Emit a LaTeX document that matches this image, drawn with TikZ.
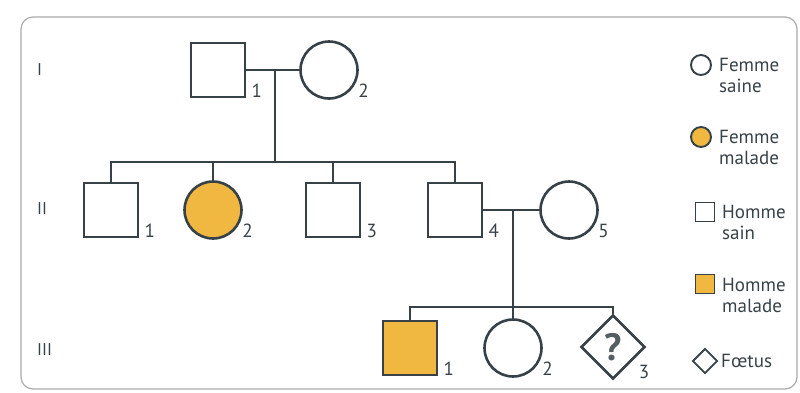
\documentclass[tikz,border=0pt]{standalone}
\usepackage{fontspec}
\setmainfont{PT Sans}
\usetikzlibrary{shapes.geometric}
\definecolor{trait}{RGB}{55,66,72}
\definecolor{malade}{RGB}{240,184,64}
\definecolor{cadre}{RGB}{170,170,170}

\begin{document}
\begin{tikzpicture}[x=1pt,y=-1pt,
	ind/.style={draw=trait,line width=2.6pt,inner sep=0pt},
	homme/.style={ind,rectangle,minimum size=54pt},
	femme/.style={ind,circle,minimum size=57pt},
	foetus/.style={ind,diamond,minimum size=64pt,text=trait!85,font=\fontsize{38}{38}\selectfont\bfseries},
	atteint/.style={fill=malade},
	lien/.style={draw=trait,line width=2.2pt},
	num/.style={anchor=base west,inner sep=0pt,text=trait,font=\fontsize{19}{19}\selectfont},
	numsq/.style={num,xshift=5pt,yshift=1pt},
	numci/.style={num,xshift=8pt,yshift=-6.5pt},
	gen/.style={anchor=west,inner sep=0pt,text=trait,font=\fontsize{17}{17}\selectfont},
	leg/.style={draw=trait,line width=1.9pt,inner sep=0pt},
	legtxt/.style={anchor=west,inner sep=0pt,align=left,text=trait,font=\fontsize{19}{21}\selectfont}
	]
	\useasboundingbox (0,0) rectangle (800,392);
	\draw[cadre,line width=1.2pt,rounded corners=12pt] (21,17) rectangle (797,389);

	\node[gen] (g1) at (37,70) {I};
	\node[gen] (g2) at (37,209) {II};
	\node[gen] (g3) at (37,350) {III};

	\node[homme] (i1) at (218,70) {};
	\node[femme] (i2) at (329,70) {};
	\node[numsq] (n-i1) at (i1.south east) {1};
	\node[numci] (n-i2) at (i2.south east) {2};

	\node[homme] (ii1) at (111,210) {};
	\node[femme,atteint] (ii2) at (213,210) {};
	\node[homme] (ii3) at (333,210) {};
	\node[homme] (ii4) at (455,210) {};
	\node[femme] (ii5) at (569,210) {};
	\node[numsq] (n-ii1) at (ii1.south east) {1};
	\node[numci] (n-ii2) at (ii2.south east) {2};
	\node[numsq] (n-ii3) at (ii3.south east) {3};
	\node[numsq] (n-ii4) at (ii4.south east) {4};
	\node[numci] (n-ii5) at (ii5.south east) {5};

	\node[homme,atteint] (iii1) at (410,348) {};
	\node[femme] (iii2) at (513,348) {};
	\node[foetus] (iii3) at (613,347) {?};
	\node[numsq] (n-iii1) at (iii1.south east) {1};
	\node[numci] (n-iii2) at (iii2.south east) {2};
	\node[num,xshift=9pt,yshift=-15pt] (n-iii3) at (iii3.south east) {3};

	\coordinate (u1) at (275,70);
	\coordinate (f1) at (275,162);
	\coordinate (u2) at (513,210);
	\coordinate (f2) at (513,307);

	\draw[lien] (i1) -- (i2);
	\draw[lien] (u1) -- (f1);
	\draw[lien] (ii1.north) -- (ii1.north |- f1) -- (ii4.north |- f1) -- (ii4.north);
	\draw[lien] (ii2.north) -- (ii2.north |- f1);
	\draw[lien] (ii3.north) -- (ii3.north |- f1);

	\draw[lien] (ii4) -- (ii5);
	\draw[lien] (u2) -- (f2);
	\draw[lien] (iii1.north) -- (iii1.north |- f2) -- (iii3.north |- f2) -- (iii3.north);
	\draw[lien] (iii2.north) -- (iii2.north |- f2);

	\node[leg,circle,minimum size=20pt] (k1) at (701,65) {};
	\node[legtxt] (t1) at (719,75) {Femme\\saine};
	\node[leg,circle,minimum size=20pt,atteint] (k2) at (701,137) {};
	\node[legtxt] (t2) at (719,147) {Femme\\malade};
	\node[leg,rectangle,minimum size=19pt] (k3) at (705,212) {};
	\node[legtxt] (t3) at (722,222) {Homme\\sain};
	\node[leg,rectangle,minimum size=19pt,atteint] (k4) at (705,284) {};
	\node[legtxt] (t4) at (722,295) {Homme\\malade};
	\node[leg,diamond,minimum size=25pt] (k5) at (705,361) {};
	\node[legtxt] (t5) at (721,361) {Fœtus};
\end{tikzpicture}
\end{document}
